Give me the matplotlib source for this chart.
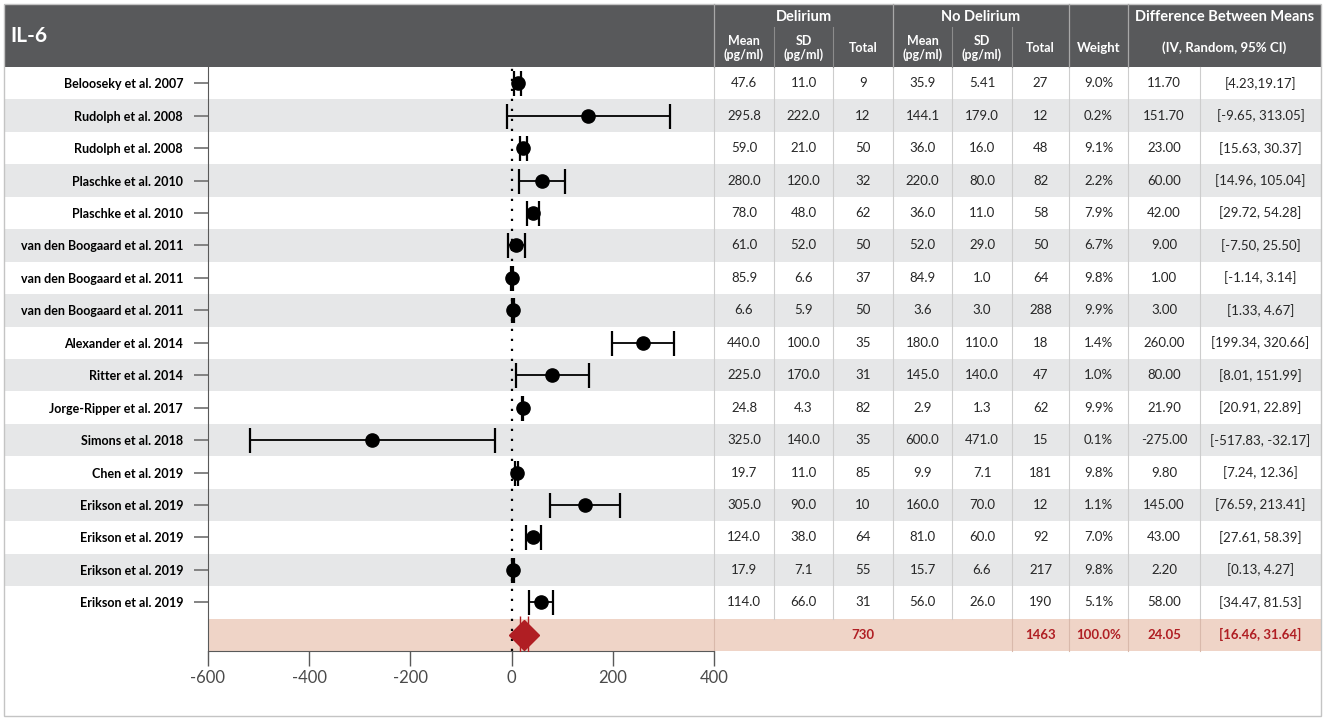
import numpy as np
import matplotlib
matplotlib.use('Agg')
import matplotlib.pyplot as plt
from matplotlib.patches import Rectangle

plt.rcParams['font.family'] = ['Lato', 'DejaVu Sans']

# data
studies = ["Belooseky et al. 2007", "Rudolph et al. 2008", "Rudolph et al. 2008",
           "Plaschke et al. 2010", "Plaschke et al. 2010", "van den Boogaard et al. 2011",
           "van den Boogaard et al. 2011", "van den Boogaard et al. 2011", "Alexander et al. 2014",
           "Ritter et al. 2014", "Jorge-Ripper et al. 2017", "Simons et al. 2018",
           "Chen et al. 2019", "Erikson et al. 2019", "Erikson et al. 2019",
           "Erikson et al. 2019", "Erikson et al. 2019"]
d_mean = [47.6, 295.8, 59.0, 280.0, 78.0, 61.0, 85.9, 6.6, 440.0, 225.0, 24.8, 325.0, 19.7, 305.0, 124.0, 17.9, 114.0]
d_sd = [11.0, 222.0, 21.0, 120.0, 48.0, 52.0, 6.6, 5.9, 100.0, 170.0, 4.3, 140.0, 11.0, 90.0, 38.0, 7.1, 66.0]
d_n = [9, 12, 50, 32, 62, 50, 37, 50, 35, 31, 82, 35, 85, 10, 64, 55, 31]
nd_mean = [35.9, 144.1, 36.0, 220.0, 36.0, 52.0, 84.9, 3.6, 180.0, 145.0, 2.9, 600.0, 9.9, 160.0, 81.0, 15.7, 56.0]
nd_sd = [5.41, 179.0, 16.0, 80.0, 11.0, 29.0, 1.0, 3.0, 110.0, 140.0, 1.3, 471.0, 7.1, 70.0, 60.0, 6.6, 26.0]
nd_n = [27, 12, 48, 82, 58, 50, 64, 288, 18, 47, 62, 15, 181, 12, 92, 217, 190]
weight = [9.0, 0.2, 9.1, 2.2, 7.9, 6.7, 9.8, 9.9, 1.4, 1.0, 9.9, 0.1, 9.8, 1.1, 7.0, 9.8, 5.1]
md = [11.70, 151.70, 23.00, 60.00, 42.00, 9.00, 1.00, 3.00, 260.00, 80.00, 21.90, -275.00, 9.80, 145.00, 43.00, 2.20, 58.00]
lo = [4.23, -9.65, 15.63, 14.96, 29.72, -7.50, -1.14, 1.33, 199.34, 8.01, 20.91, -517.83, 7.24, 76.59, 27.61, 0.13, 34.47]
hi = [19.17, 313.05, 30.37, 105.04, 54.28, 25.50, 3.14, 4.67, 320.66, 151.99, 22.89, -32.17, 12.36, 213.41, 58.39, 4.27, 81.53]
pooled = 24.05
pooled_lo = 16.46
pooled_hi = 31.64
xticks = [-600, -400, -200, 0, 200, 400]

n = len(studies)
md = np.array(md)
lo = np.array(lo)
hi = np.array(hi)

def fmt(v):
    return f"{v:.2f}" if round(v, 1) != v else f"{v:.1f}"

# layout (pixels)
W, H = 1325, 720
top0 = 67
rowh = (651 - 67) / (n + 1)
edges = [714, 774, 833, 893, 952, 1012, 1069, 1128, 1200, 1321]
centers = [(a + b) / 2 for a, b in zip(edges[:-1], edges[1:])]
txt_col = '#262626'
red = '#b01e23'

fig = plt.figure(figsize=(W / 100, H / 100), dpi=100)
bg = fig.add_axes([0, 0, 1, 1])
bg.set_xlim(0, W)
bg.set_ylim(H, 0)
bg.axis('off')

# header and row bands
bg.add_patch(Rectangle((4, 4), 1317, top0 - 4, fc='#58595b', ec='none'))
for i in range(n):
    if i % 2 == 1:
        bg.add_patch(Rectangle((4, top0 + i * rowh), 1317, rowh, fc='#e6e7e8', ec='none'))
bg.add_patch(Rectangle((208, top0 + n * rowh), 1113, rowh, fc='#efd4c7', ec='none'))
bg.add_patch(Rectangle((4, 4), 1317, 712, fc='none', ec='#c4c4c4', lw=1.0))

# column separators
for x in edges[:-1]:
    bg.plot([x, x], [top0, top0 + n * rowh], color='#cdcdcd', lw=0.8)
for x in [714, 1012, 1069, 1128, 1200]:
    bg.plot([x, x], [top0 + n * rowh, top0 + (n + 1) * rowh], color='#d9b9ab', lw=0.8)
for x in [714, 893, 1069, 1128]:
    bg.plot([x, x], [4, top0], color='#a8a8a8', lw=0.9)
for x in [774, 833, 952, 1012]:
    bg.plot([x, x], [27, top0], color='#8c8c8c', lw=0.8)

# header texts
hk = dict(color='white', fontweight='bold', ha='center', va='center')
bg.text(10, 36, "IL-6", color='white', fontweight='bold', fontsize=15, ha='left', va='center')
bg.text((714 + 893) / 2, 17, "Delirium", fontsize=10.5, **hk)
bg.text((893 + 1069) / 2, 17, "No Delirium", fontsize=10.5, **hk)
bg.text((1128 + 1321) / 2, 17, "Difference Between Means", fontsize=10.5, **hk)
bg.text((1128 + 1321) / 2, 48, "(IV, Random, 95% CI)", fontsize=9.5, **hk)
bg.text((1069 + 1128) / 2, 48, "Weight", fontsize=9.5, **hk)
sub = ["Mean\n(pg/ml)", "SD\n(pg/ml)", "Total", "Mean\n(pg/ml)", "SD\n(pg/ml)", "Total"]
for j, s in enumerate(sub):
    bg.text(centers[j], 48, s, fontsize=9, linespacing=1.05, **hk)

# table body
ci_txt = [f"[{a:.2f}, {b:.2f}]" for a, b in zip(lo, hi)]
ci_txt[0] = ci_txt[0].replace(", ", ",")
for i in range(n):
    yc = top0 + (i + 0.5) * rowh
    cells = [fmt(d_mean[i]), fmt(d_sd[i]), str(d_n[i]), fmt(nd_mean[i]), fmt(nd_sd[i]),
             str(nd_n[i]), f"{weight[i]:.1f}%", f"{md[i]:.2f}", ci_txt[i]]
    for j, c in enumerate(cells):
        bg.text(centers[j], yc, c, fontsize=9.5, color=txt_col, ha='center', va='center')

ys = top0 + (n + 0.5) * rowh
sk = dict(fontsize=9.5, color=red, fontweight='bold', ha='center', va='center')
bg.text(centers[2], ys, str(sum(d_n)), **sk)
bg.text(centers[5], ys, str(sum(nd_n)), **sk)
bg.text(centers[6], ys, f"{sum(weight):.1f}%", **sk)
bg.text(centers[7], ys, f"{pooled:.2f}", **sk)
bg.text(centers[8], ys, f"[{pooled_lo:.2f}, {pooled_hi:.2f}]", **sk)

# forest plot
ax = fig.add_axes([208 / W, (H - 651) / H, (714 - 208) / W, (651 - top0) / H])
ax.patch.set_alpha(0)
ax.set_xlim(-600, 400)
ax.set_ylim(n + 1, 0)
ypos = np.arange(n) + 0.5
ax.axvline(0, color='black', ls=(0, (1, 3.5)), lw=1.6, zorder=1)
ax.errorbar(md, ypos, xerr=[md - lo, hi - md], fmt='o', color='black', ms=9.5,
            capsize=9, elinewidth=1.3, capthick=1.6, zorder=3)
ax.errorbar([pooled], [n + 0.5], xerr=[[pooled - pooled_lo], [pooled_hi - pooled]], fmt='D',
            color=red, ms=15, capsize=13.5, elinewidth=1.0, capthick=1.0, zorder=3)

for s in ['top', 'right']:
    ax.spines[s].set_visible(False)
ax.spines['left'].set_color('#595959')
ax.spines['bottom'].set_color('#595959')
ax.set_xticks(xticks)
ax.set_xticklabels([str(t) for t in xticks])
ax.tick_params(axis='x', direction='out', length=11, width=1.0, colors='#595959',
               labelcolor='#4a4a4a', labelsize=12, pad=3)
ax.set_yticks(ypos)
ax.set_yticklabels(studies, fontweight='bold', fontsize=9, color='black')
ax.tick_params(axis='y', direction='out', length=10, width=1.3, colors='#7a7a7a',
               labelcolor='black', pad=8)

fig.savefig('out.png', dpi=100)
